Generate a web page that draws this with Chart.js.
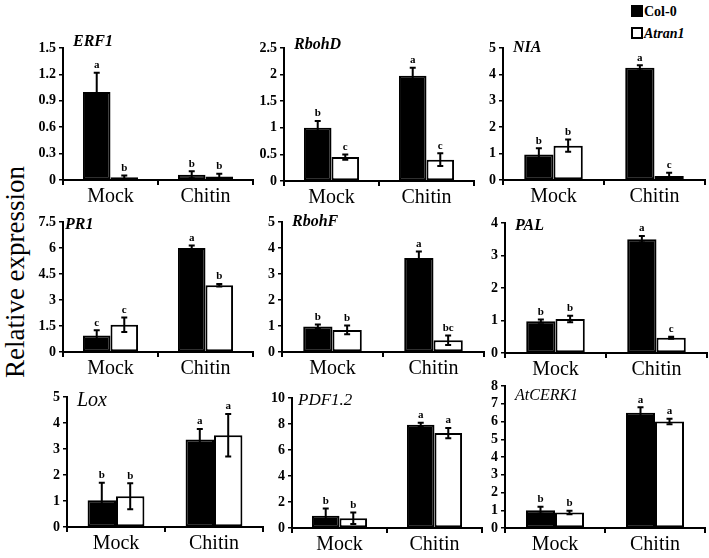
<!DOCTYPE html>
<html>
<head>
<meta charset="utf-8">
<script src="https://cdn.jsdelivr.net/npm/chart.js@4.4.1/dist/chart.umd.min.js"></script>
<style>
  body { margin: 0; background: #fff; }
  #wrap { position: relative; width: 709px; height: 558px; overflow: hidden; font-family: "Liberation Serif", serif; }
  canvas.panel { position: absolute; }
  #ytitle { position: absolute; left: 15px; top: 272px; transform: translate(-50%, -50%) rotate(-90deg); font-size: 27px; white-space: nowrap; color: #000; }
  .leg { position: absolute; left: 631px; font-size: 14px; font-weight: bold; color: #000; }
  .leg span.sq { display: inline-block; width: 8px; height: 8px; border: 2px solid #000; margin-right: 1px; vertical-align: -1px; }
</style>
</head>
<body>
<div id="wrap">
  <div id="ytitle">Relative expression</div>
  <div class="leg" style="top:4px"><span class="sq" style="background:#000"></span>Col-0</div>
  <div class="leg" style="top:26px"><span class="sq" style="background:#fff"></span><i>Atran1</i></div>
</div>
<script>
// data
const groups = ['Mock', 'Chitin'];
const genes = ['ERF1', 'RbohD', 'NIA', 'PR1', 'RbohF', 'PAL', 'Lox', 'PDF1.2', 'AtCERK1'];

const col0 = [[1.0, 0.06], [1.0, 1.98], [0.97, 4.25], [0.95, 6.0], [0.98, 3.62], [0.98, 3.5], [1.03, 3.37], [0.95, 7.95], [1.0, 6.5]];
const col0Err = [[0.22, 0.04], [0.13, 0.15], [0.23, 0.1], [0.3, 0.15], [0.08, 0.25], [0.05, 0.1], [0.67, 0.4], [0.55, 0.15], [0.2, 0.3]];
const col0Letters = [['a', 'b'], ['b', 'a'], ['b', 'a'], ['c', 'a'], ['b', 'a'], ['b', 'a'], ['b', 'a'], ['b', 'a'], ['b', 'a']];

const atran1 = [[0.03, 0.04], [0.45, 0.4], [1.3, 0.15], [1.57, 3.85], [0.85, 0.45], [1.05, 0.47], [1.18, 3.53], [0.75, 7.3], [0.87, 6.0]];
const atran1Err = [[0.02, 0.03], [0.05, 0.12], [0.23, 0.12], [0.42, 0.07], [0.17, 0.18], [0.1, 0.03], [0.5, 0.82], [0.45, 0.4], [0.1, 0.15]];
const atran1Letters = [['b', 'b'], ['c', 'c'], ['b', 'c'], ['c', 'b'], ['b', 'bc'], ['b', 'c'], ['b', 'a'], ['b', 'a'], ['b', 'a']];

const yMax = [1.5, 2.5, 5, 7.5, 5, 4, 5, 10, 8];
const yStep = [0.3, 0.5, 1, 1.5, 1, 1, 1, 2, 1];

// layout: axis left x, top y, zero y, right x (pixels on page)
const boxes = [
  [63, 48, 180, 253], [284, 48, 181, 474], [503, 48, 180, 705],
  [63, 222, 352, 253], [282, 222, 352, 484], [505, 223, 353, 707],
  [67, 397, 527, 263], [292, 398, 528, 482], [505, 386, 528, 705]
];
// title offset from axis corner, font size, bold
const titleFx = [[10, -6, 16, true], [10, -3, 16, true], [10, 0, 16, true], [2, 3, 16, true], [10, 0, 16, true],
  [10, 3, 16, true], [10, 4, 20, false], [6, 3, 17, false], [10, 10, 16, false]];

const FONT = '"Liberation Serif", serif';
const PADL = 45, PADT = 30, XH = 30, PADR = 5;

const errorBars = {
  id: 'errorBars',
  afterDatasetsDraw(chart) {
    const ctx = chart.ctx;
    const y = chart.scales.y;
    chart.data.datasets.forEach((ds, di) => {
      const meta = chart.getDatasetMeta(di);
      meta.data.forEach((bar, i) => {
        const v = ds.data[i], e = ds.errors[i];
        const top = y.getPixelForValue(v + e);
        const bot = y.getPixelForValue(Math.max(0, v - e));
        ctx.save();
        ctx.strokeStyle = '#000';
        ctx.lineWidth = 2;
        ctx.beginPath();
        ctx.moveTo(bar.x, top); ctx.lineTo(bar.x, bot);
        ctx.moveTo(bar.x - 3, top); ctx.lineTo(bar.x + 3, top);
        ctx.moveTo(bar.x - 3, bot); ctx.lineTo(bar.x + 3, bot);
        ctx.stroke();
        ctx.fillStyle = '#000';
        ctx.font = 'bold 11px ' + FONT;
        ctx.textAlign = 'center';
        ctx.textBaseline = 'bottom';
        ctx.fillText(ds.letters[i], bar.x, top - 2);
        ctx.restore();
      });
    });
  }
};

const panelTitle = {
  id: 'panelTitle',
  afterDraw(chart, args, o) {
    const ctx = chart.ctx;
    const a = chart.chartArea;
    ctx.save();
    ctx.fillStyle = '#000';
    ctx.font = 'italic ' + (o.bold ? 'bold ' : '') + o.size + 'px ' + FONT;
    ctx.textAlign = 'left';
    ctx.textBaseline = 'middle';
    ctx.fillText(o.text, a.left + o.dx, a.top + o.dy);
    ctx.restore();
  }
};

const wrap = document.getElementById('wrap');

genes.forEach((gene, k) => {
  const [L, T, B, R] = boxes[k];
  const cv = document.createElement('canvas');
  cv.className = 'panel';
  const w = R - L + PADL + PADR, h = B - T + PADT + XH;
  cv.style.left = (L - PADL) + 'px';
  cv.style.top = (T - PADT) + 'px';
  cv.style.width = w + 'px';
  cv.style.height = h + 'px';
  cv.width = w; cv.height = h;
  wrap.appendChild(cv);

  new Chart(cv.getContext('2d'), {
    type: 'bar',
    data: {
      labels: groups,
      datasets: [
        { label: 'Col-0', data: col0[k], errors: col0Err[k], letters: col0Letters[k],
          backgroundColor: '#000', borderColor: '#000', borderWidth: 2, borderSkipped: false },
        { label: 'Atran1', data: atran1[k], errors: atran1Err[k], letters: atran1Letters[k],
          backgroundColor: '#fff', borderColor: '#000', borderWidth: 2, borderSkipped: false }
      ]
    },
    options: {
      responsive: false,
      animation: false,
      layout: { padding: { top: PADT, right: PADR, left: 0, bottom: 0 } },
      datasets: { bar: { categoryPercentage: 0.58, barPercentage: 1.0 } },
      plugins: {
        legend: { display: false },
        tooltip: { enabled: false },
        panelTitle: { text: gene, dx: titleFx[k][0], dy: titleFx[k][1], size: titleFx[k][2], bold: titleFx[k][3] }
      },
      scales: {
        x: {
          afterFit: s => { s.height = XH; },
          border: { color: '#000', width: 2 },
          grid: { offset: true, drawOnChartArea: false, drawTicks: true, tickLength: 5, color: '#000', lineWidth: 2 },
          ticks: { color: '#000', padding: 0, font: { family: FONT, size: 20 } }
        },
        y: {
          min: 0, max: yMax[k],
          afterFit: s => { s.width = PADL; },
          border: { color: '#000', width: 2 },
          grid: { drawOnChartArea: false, drawTicks: true, tickLength: 4, color: '#000', lineWidth: 1.5 },
          ticks: { stepSize: yStep[k], autoSkip: false, color: '#000', padding: 3,
                   font: { family: FONT, size: 14, weight: 'bold' },
                   callback: v => String(Number(v.toFixed(2))) }
        }
      }
    },
    plugins: [errorBars, panelTitle]
  });
});
</script>
</body>
</html>
